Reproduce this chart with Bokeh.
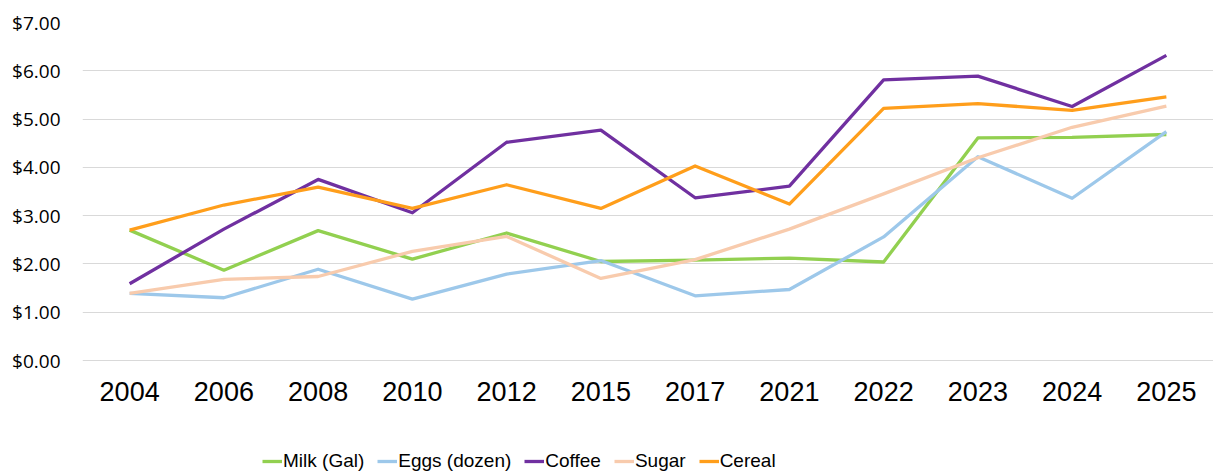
from bokeh.plotting import figure
from bokeh.models import (FactorRange, Range1d, FixedTicker, NumeralTickFormatter,
                          Legend, LegendItem)
from bokeh.core.properties import value
from bokeh.embed import file_html
from bokeh.resources import INLINE

years = ["2004", "2006", "2008", "2010", "2012", "2015", "2017", "2021", "2022", "2023", "2024", "2025"]
milk = [2.70, 1.87, 2.69, 2.10, 2.64, 2.05, 2.08, 2.12, 2.04, 4.61, 4.62, 4.68]
eggs = [1.39, 1.30, 1.89, 1.27, 1.79, 2.07, 1.34, 1.47, 2.56, 4.22, 3.36, 4.74]
coffee = [1.59, 2.72, 3.75, 3.06, 4.52, 4.77, 3.37, 3.61, 5.81, 5.89, 5.26, 6.32]
sugar = [1.39, 1.68, 1.74, 2.26, 2.57, 1.70, 2.09, 2.72, 3.45, 4.20, 4.83, 5.27]
cereal = [2.70, 3.22, 3.59, 3.15, 3.64, 3.15, 4.03, 3.24, 5.22, 5.32, 5.18, 5.46]
y_ticks = [0, 1, 2, 3, 4, 5, 6, 7]

series = [
    ("Milk (Gal)", milk, "#92D050"),
    ("Eggs (dozen)", eggs, "#9DC8EA"),
    ("Coffee", coffee, "#7030A0"),
    ("Sugar", sugar, "#F8CBAD"),
    ("Cereal", cereal, "#FF9E1B"),
]

# frame covers the plot plus the space for category labels and legend below it
FRAME_H = 453
PLOT_H = 338          # pixels between $0 and $7
y_max = 7
y_min = y_max - y_max * FRAME_H / PLOT_H

p = figure(x_range=FactorRange(factors=years, range_padding=0),
           y_range=Range1d(y_min, y_max),
           frame_width=1131, frame_height=FRAME_H,
           min_border_left=82, min_border_top=22, min_border_right=0, min_border_bottom=0,
           output_backend="svg", toolbar_location=None)

p.outline_line_color = None
p.background_fill_color = "white"
p.border_fill_color = "white"

p.xgrid.grid_line_color = None
p.ygrid.grid_line_color = "#D9D9D9"
p.ygrid.grid_line_width = 1

p.xaxis.visible = False

p.yaxis.ticker = FixedTicker(ticks=y_ticks)
p.yaxis.formatter = NumeralTickFormatter(format="$0.00")
p.yaxis.axis_line_color = None
p.yaxis.major_tick_line_color = None
p.yaxis.minor_tick_line_color = None
p.yaxis.major_tick_out = 0
p.yaxis.major_tick_in = 0
p.yaxis.major_label_text_color = "#000000"
p.yaxis.major_label_text_font = "Open Sans"
p.yaxis.major_label_text_font_size = "19px"
p.yaxis.major_label_standoff = 22

# category labels under the $0 baseline
p.text(x=years, y=0, text=years, text_font=value("Liberation Sans"),
       text_font_size="27px", text_color="#000000", text_align="center",
       text_baseline="alphabetic", y_offset=31)

items = []
for name, vals, color in series:
    r = p.line(x=years, y=vals, line_color=color, line_width=3.3, line_join="round")
    items.append(LegendItem(label=name, renderers=[r]))

legend = Legend(items=items, orientation="horizontal", location=(180, 3),
                label_text_font="Liberation Sans", label_text_font_size="19px",
                label_text_color="#000000",
                glyph_width=20, glyph_height=22, label_standoff=1, spacing=13,
                padding=0, margin=0, border_line_color=None, background_fill_alpha=0)
p.add_layout(legend, "center")

open("out.html", "w").write(file_html(p, INLINE))
